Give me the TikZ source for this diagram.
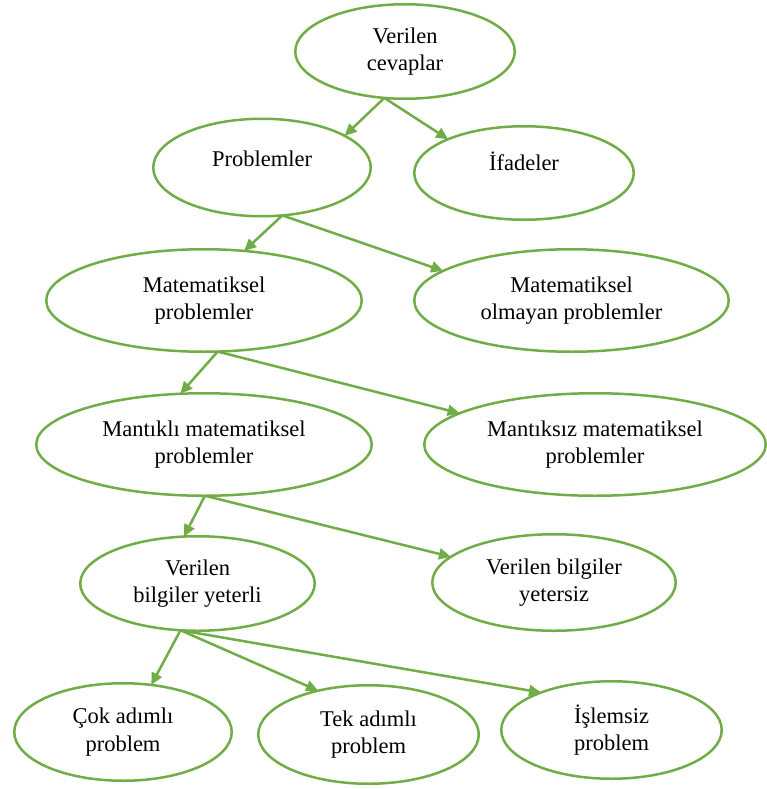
\documentclass[tikz,border=0pt]{standalone}
\usepackage{fontspec}
\setmainfont{Liberation Serif}
\usetikzlibrary{arrows.meta,shapes.geometric}
\definecolor{grn}{HTML}{70AD47}
\begin{document}
\begin{tikzpicture}[x=1pt,y=-1pt,
  el/.style={ellipse,draw=grn,line width=2.5pt,inner sep=0pt,outer sep=0pt,
    align=center,font=\fontsize{22.5}{27.5}\selectfont},
  arr/.style={draw=grn,line width=2.5pt,-{Triangle[length=12pt,width=11pt]}}]
\useasboundingbox (0,0) rectangle (766,789);
\node[el,minimum width=219.5pt,minimum height=94.5pt] (A) at (405,51.5) {Verilen\\cevaplar};
\node[el,minimum width=217.5pt,minimum height=97.5pt] (B) at (262,167.5) {\raisebox{1pt}[0pt][0pt]{Problemler}};
\node[el,minimum width=219.5pt,minimum height=93.5pt] (C) at (524,173) {\raisebox{3pt}[0pt][0pt]{İfadeler}};
\node[el,minimum width=315.5pt,minimum height=102.5pt] (D) at (204,300.5) {Matematiksel\\problemler};
\node[el,minimum width=314.5pt,minimum height=102.5pt] (E) at (571.5,300.5) {Matematiksel\\olmayan problemler};
\node[el,minimum width=335.5pt,minimum height=102.5pt] (F) at (204,444.5) {Mantıklı matematiksel\\problemler};
\node[el,minimum width=341.5pt,minimum height=102.5pt] (G) at (595,444.5) {Mantıksız matematiksel\\problemler};
\node[el,minimum width=234.5pt,minimum height=94.5pt] (H) at (197.5,583.5) {Verilen\\bilgiler yeterli};
\node[el,minimum width=243.5pt,minimum height=96.5pt] (I) at (554,582.5) {Verilen bilgiler\\yetersiz};
\node[el,minimum width=217.5pt,minimum height=97.5pt] (J) at (123,732) {Çok adımlı\\problem};
\node[el,minimum width=220.5pt,minimum height=98.5pt] (K) at (368.5,734.5) {Tek adımlı\\problem};
\node[el,minimum width=220.5pt,minimum height=97.5pt] (L) at (611.5,730) {İşlemsiz\\problem};
\draw[arr] (A.246) -- (B.21);
\draw[arr] (A.246) -- (C.156);
\draw[arr] (B.293) -- (D.51);
\draw[arr] (B.293) -- (E.167);
\draw[arr] (D.285) -- (F.115);
\draw[arr] (D.285) -- (G.167);
\draw[arr] (F.271) -- (H.106);
\draw[arr] (F.271) -- (I.166);
\draw[arr] (H.250) -- (J.59);
\draw[arr] (H.250) -- (K.139);
\draw[arr] (H.250) -- (L.152);
\end{tikzpicture}
\end{document}
